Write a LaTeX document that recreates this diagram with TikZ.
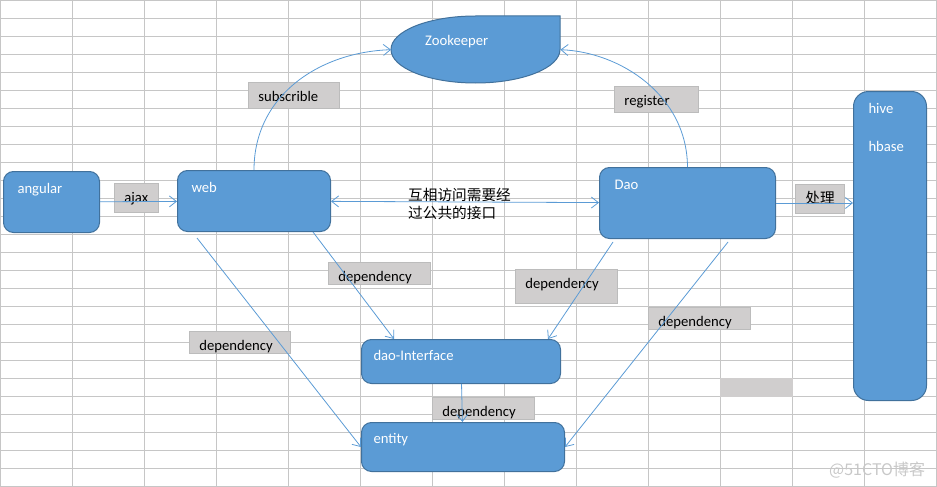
\documentclass[tikz,border=0pt]{standalone}
\usepackage{fontspec}
\setmainfont{Carlito}
\newfontfamily\cjk{Noto Sans CJK SC}
\usepackage{tikz}
\usetikzlibrary{arrows.meta,positioning}
\definecolor{boxBlue}{RGB}{91,155,213}
\definecolor{boxEdge}{RGB}{65,113,156}
\definecolor{tagGray}{RGB}{208,206,206}
\definecolor{tagEdge}{RGB}{188,188,188}
\definecolor{gridGray}{RGB}{198,198,198}
\definecolor{linkBlue}{RGB}{91,155,213}
\definecolor{markGray}{RGB}{200,200,200}

\begin{document}
\begin{tikzpicture}[
      x=1pt, y=-1pt,
      font=\fontsize{14.67}{18}\selectfont,
      blk/.style={draw=boxEdge, fill=boxBlue, line width=1pt, rounded corners=10pt,
        text=white, align=left, anchor=north west, inner ysep=0pt},
      tag/.style={draw=tagEdge, fill=tagGray, line width=0.8pt, anchor=north west,
        align=left, inner xsep=10pt, inner ysep=0pt, text height=19pt},
      link/.style={draw=linkBlue, line width=0.8pt},
      >={Straight Barb[length=7pt,width=11pt]}
    ]
      \useasboundingbox (0,0) rectangle (937,487);

      % Sheet grid
      \foreach \i in {0,...,13}
        \draw[gridGray, line width=1pt] (72*\i+0.5,0) -- (72*\i+0.5,487);
      \foreach \j in {0,...,27}
        \draw[gridGray, line width=1pt] (0,18*\j+0.5) -- (937,18*\j+0.5);

      % Labels
      \node[tag, text width=24pt, text depth=10pt] (ajax) at (114,183) {ajax};
      \node[tag, text width=71pt, text depth=7pt] (subs) at (248,82) {subscrible};
      \node[tag, text width=64pt, text depth=7pt] (reg) at (614,86) {register};
      \node[tag, text width=29pt, text depth=10pt] (proc) at (795,184) {\cjk 处理};
      \node[tag, text width=82pt, text depth=3pt] (depWI) at (328,262) {dependency};
      \node[tag, text width=81pt, text depth=3pt] (depWE) at (189,331) {dependency};
      \node[tag, text width=82pt, text depth=15pt] (depDI) at (515,269) {dependency};
      \node[tag, text width=82pt, text depth=3pt] (depDE) at (648,307) {dependency};
      \node[tag, text width=82pt, text depth=3pt] (depIE) at (432,397) {dependency};
      \fill[tagGray] (720,378) rectangle (793,397);

      % Blocks
      \node[blk, inner xsep=14pt, text width=68pt, text height=22pt, text depth=39pt]
        (angular) at (3,171) {angular};
      \node[blk, inner xsep=14pt, text width=125pt, text height=22pt, text depth=39pt]
        (web) at (177,170) {web};
      \node[blk, inner xsep=15pt, text width=146pt, text height=22pt, text depth=49pt]
        (Dao) at (599,167) {Dao};
      \node[blk, inner xsep=12pt, text width=175pt, text height=21pt, text depth=23pt]
        (daoif) at (361,339) {dao-Interface};
      \node[blk, inner xsep=12pt, text width=179pt, text height=21pt, text depth=28pt]
        (entity) at (361,422) {entity};
      \node[blk, rounded corners=15pt, inner xsep=15pt, text width=43pt,
        text height=22pt, text depth=287pt]
        (hive) at (853,91) {hive\\[20pt]hbase};

      % Zookeeper (teardrop)
      \draw[draw=boxEdge, fill=boxBlue, line width=1pt] (560,16) -- (560,49.5)
        arc[start angle=0, end angle=-270, x radius=84.5pt, y radius=33.5pt] -- cycle;
      \node[anchor=north west, text=white, align=left, inner xsep=34pt, inner ysep=0pt,
        text width=101pt, text height=29pt, text depth=38pt]
        (zk) at (391,16) {Zookeeper};

      \node[anchor=north west, inner sep=0pt, text width=110pt, align=left,
        text height=15pt, font=\cjk\fontsize{14.67}{18.3}\selectfont]
        (note) at (408,185) {互相访问需要经\\过公共的接口};

      % Arrows
      \draw[link, ->] (angular) -- (web);
      \draw[link, <->] (web) -- (Dao);
      \draw[link, ->] (Dao.east) -- (Dao.east -| hive.west);
      \draw[link, ->] (web.north) .. controls (254,95) and (320,52) .. (zk.west);
      \draw[link, ->] (Dao.north) .. controls (687,95) and (620,52) .. (zk.east);
      \draw[link, ->] ([xshift=-18pt]web.south east) -- ([xshift=33pt]daoif.north west);
      \draw[link, ->] ([xshift=20pt, yshift=-6pt]web.south west) -- (entity.west);
      \draw[link, ->] ([xshift=14pt, yshift=-3pt]Dao.south west) -- ([xshift=-13pt]daoif.north east);
      \draw[link, ->] ([xshift=-48pt, yshift=-3pt]Dao.south east) -- (entity.east);
      \draw[link, ->] (daoif) -- (entity);

      \node[anchor=base west, inner sep=0pt, text=markGray,
        font=\cjk\fontsize{16}{18}\selectfont] (mark) at (829,475) {@51CTO博客};
    \end{tikzpicture}
\end{document}
